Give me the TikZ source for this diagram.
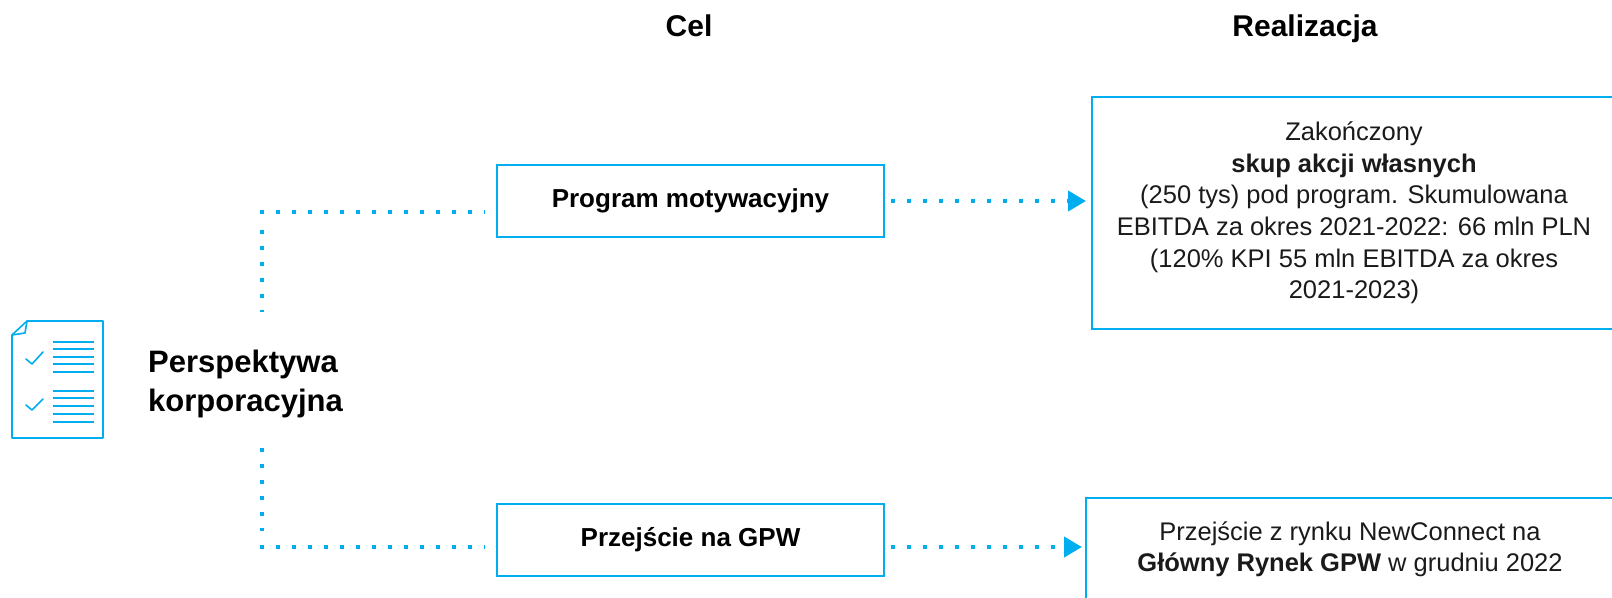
\documentclass[tikz,border=0pt]{standalone}
\usepackage{fontspec}
\setmainfont{Liberation Sans}
\usetikzlibrary{arrows.meta}
\definecolor{cy}{HTML}{00AEEF}
\definecolor{txt}{HTML}{1A1A1A}
\tikzset{
  midbox/.style={draw=cy, line width=2bp, minimum width=387bp, minimum height=72bp,
    inner sep=0pt, font=\fontsize{26bp}{31bp}\selectfont\bfseries, text=black},
  rbox/.style={draw=cy, line width=2bp, align=center, inner sep=0pt,
    font=\fontsize{25.5bp}{31.5bp}\selectfont, text=txt},
  dots/.style={draw=cy, line width=4bp, line cap=butt, dash pattern=on 4bp off 12bp},
  dotarrow/.style={dots, -{Triangle[length=18bp, width=20bp]}},
  hdr/.style={font=\fontsize{30bp}{36bp}\selectfont\bfseries, text=black, inner sep=0pt},
  iconline/.style={draw=cy, line width=1.6bp, line cap=round, line join=round}
}
\begin{document}
\begin{tikzpicture}[x=1bp, y=1bp]
\useasboundingbox (0,0) rectangle (1612,-598);
% headers
\node[hdr, anchor=base] (cel) at (689,-37) {Cel};
\node[hdr, anchor=base] (real) at (1305,-37) {Realizacja};
% icon
\draw[iconline] (27,-321) -- (103,-321) -- (103,-438) -- (12,-438) -- (12,-335) -- cycle;
\draw[iconline] (12,-335) -- (25,-333) -- (27,-321);
\draw[iconline] (26,-359) -- (32,-364) -- (43,-352);
\draw[iconline] (26,-405) -- (32,-410) -- (43,-399);
\foreach \yy in {342,349,357,364,372,391,398,406,414,422}
  \draw[iconline, line cap=butt] (53,-\yy) -- (94,-\yy);
% main label
\node[anchor=west, align=left, inner sep=0pt, text=black,
  font=\fontsize{31bp}{39bp}\selectfont\bfseries] (persp) at (148,-384)
  {Perspektywa\\korporacyjna};
% middle boxes
\node[midbox] (prog) at (690.5,-201) {Program motywacyjny};
\node[midbox] (gpw) at (690.5,-540) {Przejście na GPW};
% right boxes
\node[rbox, minimum width=524bp, minimum height=232bp] (real1) at (1354,-213)
  {Zakończony\\\textbf{skup akcji własnych}\\(250 tys) pod program. Skumulowana\\EBITDA za okres 2021-2022: 66 mln PLN\\(120\% KPI 55 mln EBITDA za okres\\2021-2023)};
\node[rbox, minimum width=528bp, anchor=north] (real2) at (1350,-497)
  {\rule{0pt}{42bp}Przejście z rynku NewConnect na\\\textbf{Główny Rynek GPW} w grudniu 2022\rule[-90bp]{0pt}{0pt}};
% connectors
\coordinate (t1) at (262,-312);
\coordinate (c1) at (262,-212);
\coordinate (t2) at (262,-448);
\coordinate (c2) at (262,-547);
\draw[dots] ([xshift=-2bp]c1) -- ([xshift=-11bp]prog.west |- c1);
\draw[dots] ([yshift=-18bp]c1) -- (t1);
\draw[dots] ([xshift=-2bp]c2) -- ([xshift=-11bp]gpw.west |- c2);
\draw[dots] (t2) -- ([yshift=16bp]c2);
\draw[dotarrow] ([xshift=6bp]prog.east) -- ([xshift=-5bp]real1.west |- prog.east);
\draw[dotarrow] ([xshift=6bp]gpw.east |- c2) -- ([xshift=-3bp]real2.west |- c2);
\end{tikzpicture}
\end{document}
